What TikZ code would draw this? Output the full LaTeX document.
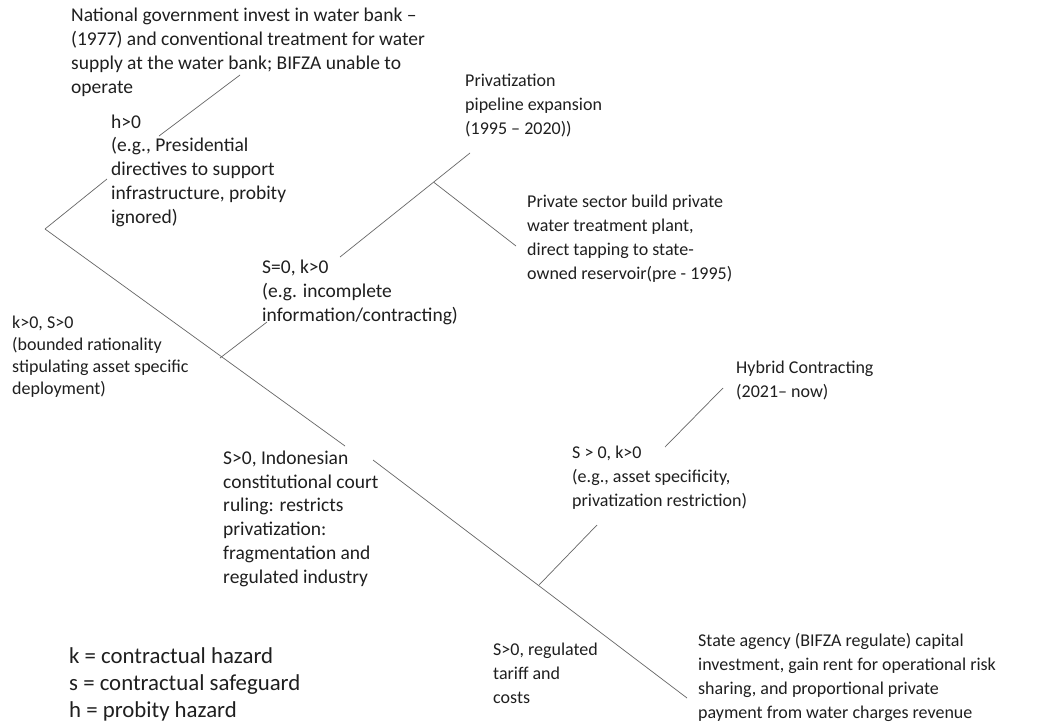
\documentclass[tikz,border=0pt]{standalone}
\usepackage{fontspec}
\setmainfont{Carlito}
\usetikzlibrary{calc}
\begin{document}
\begin{tikzpicture}[x=1pt,y=-1pt,
  branch/.style={draw=black!60, line width=0.7pt},
  lbl/.style={anchor=base west, inner sep=0pt, align=left,
    font=\fontsize{18}{23.7}\selectfont, text=black!88},
  biglbl/.style={lbl, font=\fontsize{19.5}{23.7}\selectfont},
  legendtext/.style={anchor=base west, inner sep=0pt, align=left,
    font=\fontsize{22.8}{27}\selectfont, text=black!88}]
\useasboundingbox[fill=white] (0,0) rectangle (1039,723);

% text blocks (each placed by the baseline of its last line)
\node[biglbl] (gov) at (71,93) {National government invest in water bank --\\(1977) and conventional treatment for water\\supply at the water bank; BIFZA unable to\\operate};
\node[biglbl] (hz) at (111,223) {h>0\\(e.g., Presidential\\directives to support\\infrastructure, probity\\ignored)};
\node[lbl] (pipe) at (465,134) {Privatization\\pipeline expansion\\(1995 -- 2020))};
\node[lbl] (plant) at (527,279) {Private sector build private\\water treatment plant,\\direct tapping to state-\\owned reservoir(pre - 1995)};
\node[biglbl] (szero) at (262,321) {S=0, k>0\\(e.g. incomplete\\information/contracting)};
\node[lbl, font=\fontsize{18}{22}\selectfont] (kpos) at (12,394) {k>0, S>0\\(bounded rationality\\stipulating asset specific\\deployment)};
\node[biglbl] (court) at (223,583) {S>0, Indonesian\\constitutional court\\ruling: restricts\\privatization:\\fragmentation and\\regulated industry};
\node[lbl] (hybrid) at (736,397) {Hybrid Contracting\\(2021-- now)};
\node[lbl] (spos) at (572,506) {S > 0, k>0\\(e.g., asset specificity,\\privatization restriction)};
\node[lbl] (tariff) at (493,703) {S>0, regulated\\tariff and\\costs};
\node[lbl] (agency) at (698,718) {State agency (BIFZA regulate) capital\\investment, gain rent for operational risk\\sharing, and proportional private\\payment from water charges revenue};
\node[legendtext] (legend) at (69,717) {k = contractual hazard\\s = contractual safeguard\\h = probity hazard};

% branch points and line ends
\coordinate (root) at (45,229);
\coordinate (hlow) at (107,179);
\coordinate (hup) at (159,136);
\coordinate (govend) at (240,75);
\coordinate (mainA) at (345,446);
\coordinate (mainB) at (373,460);
\coordinate (mainend) at (687,698);
\coordinate (j1) at (220,358);
\coordinate (j1end) at (267,322);
\coordinate (plow) at (340,257);
\coordinate (pup) at (470,153);
\coordinate (j2) at ($(plow)!0.72!(pup)$);
\coordinate (plantend) at (516,246);
\coordinate (j3) at (539,585);
\coordinate (j3end) at (597,525);
\coordinate (hylow) at (665,447);
\coordinate (hyup) at (723,388);

% the decision tree
\draw[branch] (root) -- (hlow);
\draw[branch] (hup) -- (govend);
\draw[branch] (root) -- (mainA);
\draw[branch] (mainB) -- (mainend);
\draw[branch] (j1) -- (j1end);
\draw[branch] (plow) -- (pup);
\draw[branch] (j2) -- (plantend);
\draw[branch] (j3) -- (j3end);
\draw[branch] (hylow) -- (hyup);
\end{tikzpicture}
\end{document}
